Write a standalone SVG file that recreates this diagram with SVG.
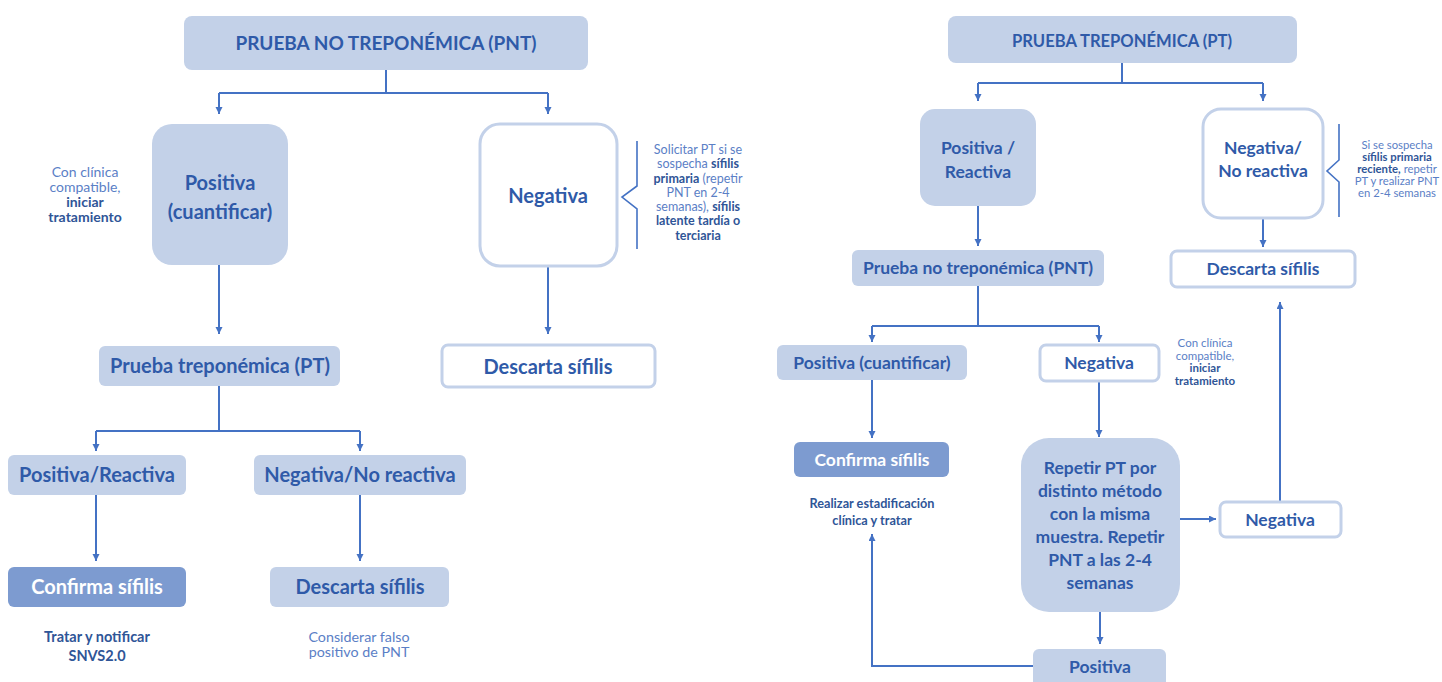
<svg xmlns="http://www.w3.org/2000/svg" width="1442" height="682" viewBox="0 0 1442 682">
<style>
.lf{fill:#c3d1e8;stroke:none}
.wb{fill:#ffffff;stroke:#c3d1e9;stroke-width:3}
.cf{fill:#7d9bd0;stroke:none}
text{font-family:Lato,"Open Sans","Liberation Sans",sans-serif;text-anchor:middle}
.t{fill:#2f5aa8;font-weight:bold}
.tw{fill:#ffffff;font-weight:bold}
.a{fill:#5b80c6;font-weight:normal}
.ab{fill:#2f5597;font-weight:bold}
.c{fill:none;stroke:#4472c4;stroke-width:2}
.br{fill:none;stroke:#4472c4;stroke-width:1.6}
.L{font-size:20px}
.R{font-size:17.5px}
</style>
<defs>
<marker id="ah" markerWidth="8" markerHeight="8" refX="7" refY="3.5" orient="auto" markerUnits="userSpaceOnUse">
<path d="M0,0 L7,3.5 L0,7 z" fill="#4472c4"/>
</marker>
</defs>

<g id="connectors">
<path class="c" d="M386,70 V93 M219,93 H548" />
<path class="c" d="M219,93 V114" marker-end="url(#ah)"/>
<path class="c" d="M548,93 V114" marker-end="url(#ah)"/>
<path class="c" d="M219,265 V334" marker-end="url(#ah)"/>
<path class="c" d="M548,266 V334" marker-end="url(#ah)"/>
<path class="c" d="M219,386 V431 M96,431 H360"/>
<path class="c" d="M96,431 V451" marker-end="url(#ah)"/>
<path class="c" d="M360,431 V451" marker-end="url(#ah)"/>
<path class="c" d="M96,495 V561" marker-end="url(#ah)"/>
<path class="c" d="M360,495 V561" marker-end="url(#ah)"/>
<path class="br" d="M637,141 V186 L622,197 L637,209 V249"/>

<path class="c" d="M1122,63 V83 M978,83 H1263"/>
<path class="c" d="M978,83 V101" marker-end="url(#ah)"/>
<path class="c" d="M1263,83 V101" marker-end="url(#ah)"/>
<path class="c" d="M978,206 V246" marker-end="url(#ah)"/>
<path class="c" d="M1263,218 V247" marker-end="url(#ah)"/>
<path class="br" d="M1339,124 V160 L1327,171 L1339,182 V217"/>
<path class="c" d="M978,286 V326 M872,326 H1099"/>
<path class="c" d="M872,326 V342" marker-end="url(#ah)"/>
<path class="c" d="M1099,326 V342" marker-end="url(#ah)"/>
<path class="c" d="M872,380 V438" marker-end="url(#ah)"/>
<path class="c" d="M1099,381 V437" marker-end="url(#ah)"/>
<path class="c" d="M1180,519 H1216" marker-end="url(#ah)"/>
<path class="c" d="M1280,501 V302" marker-end="url(#ah)"/>
<path class="c" d="M1100,612 V644" marker-end="url(#ah)"/>
<path class="c" d="M1033,666 H872 V534" marker-end="url(#ah)"/>
</g>

<g id="pnt-top">
<rect class="lf" x="184" y="16" width="404" height="54" rx="8"/>
<text class="t" x="386" y="50" font-size="19">PRUEBA NO TREPONÉMICA (PNT)</text>
</g>
<g id="left-positiva">
<rect class="lf" x="152" y="124" width="136" height="141" rx="20"/>
<text class="t L" x="220" y="190">Positiva</text>
<text class="t L" x="220" y="219">(cuantificar)</text>
</g>
<g id="left-note-clinica">
<text class="a" x="85" y="177" font-size="14">Con clínica</text>
<text class="a" x="85" y="192" font-size="14">compatible,</text>
<text class="ab" x="85" y="207" font-size="14">iniciar</text>
<text class="ab" x="85" y="222" font-size="14">tratamiento</text>
</g>
<g id="left-negativa">
<rect class="wb" x="480" y="124" width="137" height="142" rx="20"/>
<text class="t L" x="548" y="203">Negativa</text>
</g>
<g id="left-note-solicitar">
<text class="a" x="698" y="154" font-size="12.5">Solicitar PT si se</text>
<text class="a" x="698" y="168" font-size="12.5">sospecha <tspan class="ab">sífilis</tspan></text>
<text class="a" x="698" y="183" font-size="12.5"><tspan class="ab">primaria</tspan> (repetir</text>
<text class="a" x="698" y="197" font-size="12.5">PNT en 2-4</text>
<text class="a" x="698" y="211" font-size="12.5">semanas), <tspan class="ab">sífilis</tspan></text>
<text class="ab" x="698" y="225" font-size="12.5">latente tardía o</text>
<text class="ab" x="698" y="240" font-size="12.5">terciaria</text>
</g>
<g id="left-pt">
<rect class="lf" x="99" y="346" width="241" height="40" rx="6"/>
<text class="t L" x="220" y="373">Prueba treponémica (PT)</text>
</g>
<g id="left-descarta-1">
<rect class="wb" x="442" y="345" width="213" height="42" rx="6"/>
<text class="t L" x="548" y="374">Descarta sífilis</text>
</g>
<g id="left-pos-reactiva">
<rect class="lf" x="8" y="455" width="178" height="40" rx="6"/>
<text class="t L" x="97" y="482">Positiva/Reactiva</text>
</g>
<g id="left-neg-noreactiva">
<rect class="lf" x="254" y="455" width="212" height="40" rx="6"/>
<text class="t L" x="360" y="482">Negativa/No reactiva</text>
</g>
<g id="left-confirma">
<rect class="cf" x="8" y="567" width="178" height="40" rx="6"/>
<text class="tw L" x="97" y="594">Confirma sífilis</text>
</g>
<g id="left-descarta-2">
<rect class="lf" x="270" y="567" width="179" height="40" rx="6"/>
<text class="t L" x="360" y="594">Descarta sífilis</text>
</g>
<g id="left-note-tratar">
<text class="ab" x="97" y="642" font-size="14.5">Tratar y notificar</text>
<text class="ab" x="97" y="661" font-size="14.5">SNVS2.0</text>
</g>
<g id="left-note-falso">
<text class="a" x="359" y="642" font-size="14.3">Considerar falso</text>
<text class="a" x="359" y="657" font-size="14.3">positivo de PNT</text>
</g>

<g id="pt-top">
<rect class="lf" x="948" y="16" width="349" height="47" rx="8"/>
<text class="t" x="1122" y="47" font-size="16.6">PRUEBA TREPONÉMICA (PT)</text>
</g>
<g id="right-pos-reactiva">
<rect class="lf" x="920" y="109" width="116" height="97" rx="15"/>
<text class="t R" x="978" y="154">Positiva /</text>
<text class="t R" x="978" y="178">Reactiva</text>
</g>
<g id="right-neg-noreactiva">
<rect class="wb" x="1203" y="109" width="120" height="109" rx="18"/>
<text class="t R" x="1263" y="154">Negativa/</text>
<text class="t R" x="1263" y="177">No reactiva</text>
</g>
<g id="right-note-sospecha">
<text class="a" x="1397" y="149" font-size="11.3">Si se sospecha</text>
<text class="ab" x="1397" y="161" font-size="11.3">sífilis primaria</text>
<text class="a" x="1397" y="173" font-size="11.3"><tspan class="ab">reciente,</tspan> repetir</text>
<text class="a" x="1397" y="185" font-size="11.3">PT y realizar PNT</text>
<text class="a" x="1397" y="197" font-size="11.3">en 2-4 semanas</text>
</g>
<g id="right-pnt">
<rect class="lf" x="852" y="250" width="252" height="36" rx="6"/>
<text class="t R" x="978" y="274">Prueba no treponémica (PNT)</text>
</g>
<g id="right-descarta">
<rect class="wb" x="1171" y="251" width="184" height="36" rx="6"/>
<text class="t R" x="1263" y="275">Descarta sífilis</text>
</g>
<g id="right-pos-cuantificar">
<rect class="lf" x="777" y="345" width="190" height="35" rx="6"/>
<text class="t R" x="872" y="369">Positiva (cuantificar)</text>
</g>
<g id="right-negativa-1">
<rect class="wb" x="1040" y="345" width="119" height="36" rx="6"/>
<text class="t R" x="1099" y="369">Negativa</text>
</g>
<g id="right-note-clinica">
<text class="a" x="1205" y="347" font-size="11.5">Con clínica</text>
<text class="a" x="1205" y="360" font-size="11.5">compatible,</text>
<text class="ab" x="1205" y="372" font-size="11.5">iniciar</text>
<text class="ab" x="1205" y="385" font-size="11.5">tratamiento</text>
</g>
<g id="right-confirma">
<rect class="cf" x="794" y="442" width="155" height="35" rx="6"/>
<text class="tw R" x="872" y="466">Confirma sífilis</text>
</g>
<g id="right-note-estadificacion">
<text class="ab" x="872" y="508" font-size="12.7" fill="#3d66b3">Realizar estadificación</text>
<text class="ab" x="872" y="525" font-size="12.7" fill="#3d66b3">clínica y tratar</text>
</g>
<g id="right-repetir">
<rect class="lf" x="1021" y="438" width="159" height="174" rx="28"/>
<text class="t R" x="1100" y="474">Repetir PT por</text>
<text class="t R" x="1100" y="497">distinto método</text>
<text class="t R" x="1100" y="520">con la misma</text>
<text class="t R" x="1100" y="543">muestra. Repetir</text>
<text class="t R" x="1100" y="566">PNT a las 2-4</text>
<text class="t R" x="1100" y="589">semanas</text>
</g>
<g id="right-negativa-2">
<rect class="wb" x="1220" y="502" width="121" height="35" rx="6"/>
<text class="t R" x="1280" y="526">Negativa</text>
</g>
<g id="right-positiva">
<rect class="lf" x="1033" y="649" width="133" height="45" rx="6"/>
<text class="t R" x="1100" y="673">Positiva</text>
</g>
</svg>
